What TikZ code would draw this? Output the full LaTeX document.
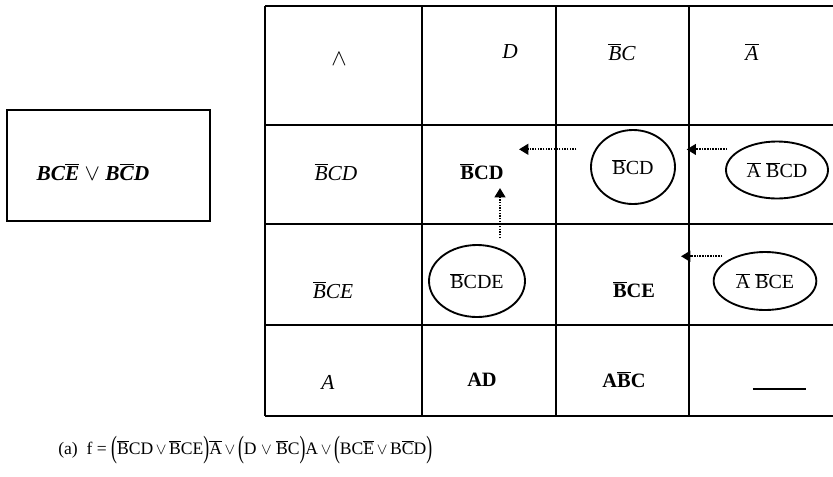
\documentclass[tikz,border=0pt]{standalone}
\usepackage{fontspec}
\setmainfont{Liberation Serif}
\usepackage{graphicx}
\usetikzlibrary{arrows.meta,shapes.geometric}
\newcommand{\ovl}[1]{$\overline{\mbox{#1}}$}
\newcommand{\parL}{\raisebox{-0.35ex}{\scalebox{1}[1.75]{(}}}
\newcommand{\parR}{\raisebox{-0.35ex}{\scalebox{1}[1.75]{)}}}
\tikzset{
  grid-line/.style={line width=1.6pt,draw=black},
  frame-box/.style={draw=black,line width=1.6pt,minimum width=152pt,
    minimum height=83pt,inner sep=0pt},
  lbl/.style={inner sep=1pt,font=\fontsize{16}{19}\selectfont\itshape},
  term-b/.style={inner sep=1pt,font=\fontsize{15.3}{18}\selectfont\bfseries},
  term-bi/.style={inner sep=1pt,font=\fontsize{16}{19}\selectfont\bfseries\itshape},
  term-ell/.style={ellipse,draw=black,line width=1.4pt,inner sep=0pt,
    font=\fontsize{15}{18}\selectfont},
  cap-text/.style={inner sep=0pt,font=\fontsize{13.2}{16}\selectfont},
  arrow-dot/.style={-{Triangle[length=7pt,width=8pt]},line width=1.6pt,
    dash pattern=on 1.1pt off 0.9pt},
}
\begin{document}
\begin{tikzpicture}[x=0.75pt,y=-0.75pt]
  \useasboundingbox (0,0) rectangle (833,476);
  % table
  \foreach \gy in {6,125,224,325,416}
    \draw[grid-line] (265,\gy) -- (833,\gy);
  \foreach \gx in {422,556,689}
    \draw[grid-line] (\gx,6) -- (\gx,416);
  \draw[grid-line,line width=2pt] (265,6) -- (265,416);

  % left box
  \node[frame-box] (fbox) at (108.5,165.5) {};
  \node[term-bi] (fexpr) at (93,172) {BC\ovl{E} $\vee$ B\ovl{C}D};

  % header row
  \node[lbl,font=\fontsize{18}{20}\selectfont] (hAnd) at (339,59) {$\wedge$};
  \node[lbl] (hD)   at (510,52) {D};
  \node[lbl] (hBC)  at (622,52) {\ovl{B}C};
  \node[lbl] (hA)   at (752,52) {\ovl{A}};

  % row BCD
  \node[lbl]    (rBCD) at (336,172) {\ovl{B}CD};
  \node[term-b] (bBCD) at (482,172) {\ovl{B}CD};
  \node[term-ell,minimum width=63pt,minimum height=55.5pt]   (eBCD)  at (633,167) {\ovl{B}CD};
  \node[term-ell,minimum width=76.5pt,minimum height=42.75pt] (eABCD) at (777,170) {\ovl{A} \ovl{B}CD};

  % row BCE
  \node[lbl]    (rBCE) at (333,290) {\ovl{B}CE};
  \node[term-ell,minimum width=72pt,minimum height=54pt]   (eBCDE) at (477,281) {\ovl{B}CDE};
  \node[term-b] (bBCE) at (634,290) {\ovl{B}CE};
  \node[term-ell,minimum width=77pt,minimum height=43.5pt] (eABCE) at (765,281) {\ovl{A} \ovl{B}CE};

  % row A
  \node[lbl]    (rA)   at (328,382) {A};
  \node[term-b] (bAD)  at (482,380) {AD};
  \node[term-b] (bABC) at (624,380) {A\ovl{B}C};
  \node[inner sep=0pt] (none) at (779.5,389) {\rule{40pt}{1.8pt}};

  % dotted arrows
  \coordinate (tBCD) at (519,150);
  \coordinate (tUp)  at (500,188);
  \coordinate (tBCE) at (681,257);
  \draw[arrow-dot,shorten <=14pt] (eBCD.155) -- (eBCD.155 -| tBCD);
  \draw[arrow-dot,shorten <=9.5pt,shorten >=8pt] (eABCD.151) -- (eABCD.151 -| eBCD.east);
  \draw[arrow-dot,shorten <=4.5pt] (eBCDE.north -| tUp) -- (tUp);
  \draw[arrow-dot,shorten <=10pt] (eABCE.140) -- (eABCE.140 -| tBCE);

  % caption
  \node[cap-text,anchor=west] (cap) at (58,450)
    {(a)\enspace f = \parL\ovl{B}CD$\,\vee\,$\ovl{B}CE\parR\ovl{A}$\,\vee\,$\parL D $\vee$ \ovl{B}C\parR A$\,\vee\,$\parL BC\ovl{E}$\,\vee\,$B\ovl{C}D\parR};
\end{tikzpicture}
\end{document}
